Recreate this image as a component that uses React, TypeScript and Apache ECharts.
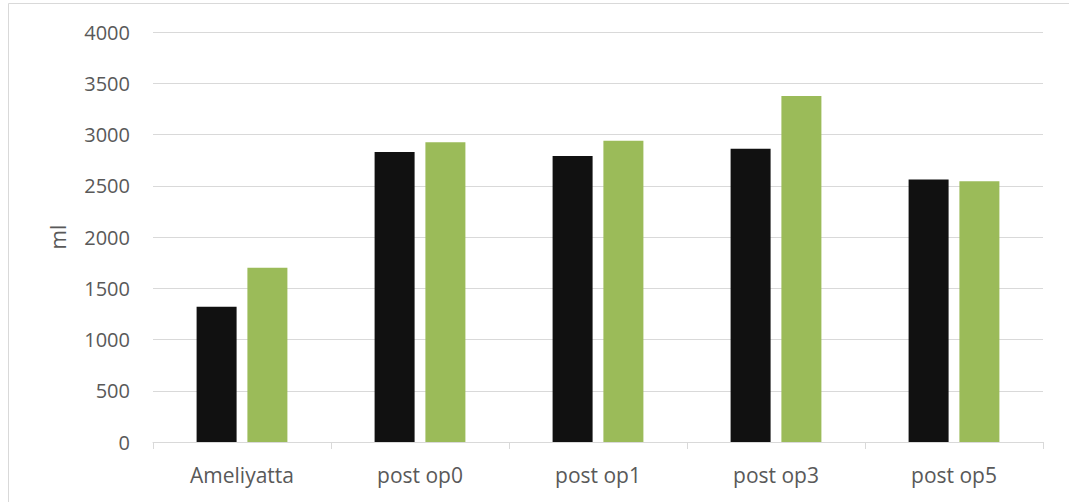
import React, { useEffect, useRef } from "react";
import * as echarts from "echarts";

const categories = ["Ameliyatta", "post op0", "post op1", "post op3", "post op5"];
const seriesA = [1320, 2830, 2790, 2860, 2560];
const seriesB = [1700, 2925, 2940, 3375, 2545];
const yTicks = { min: 0, max: 4000, interval: 500 };
const yName = "ml";

export default function App() {
  const ref = useRef<HTMLDivElement>(null);

  useEffect(() => {
    if (!ref.current) return;
    const chart = echarts.init(ref.current, null, { renderer: "svg" });
    const font = "'Open Sans', Lato, sans-serif";
    chart.setOption({
      animation: false,
      backgroundColor: "#ffffff",
      graphic: [
        {
          type: "rect",
          shape: { x: 8.5, y: 3.5, width: 1200, height: 700 },
          style: { fill: "none", stroke: "#d9d9d9", lineWidth: 1 },
          silent: true,
        },
      ],
      grid: { left: 153, right: 26, top: 32, bottom: 60, containLabel: false },
      xAxis: {
        type: "category",
        data: categories,
        axisLine: { lineStyle: { color: "#d9d9d9", width: 1 } },
        axisTick: { show: true, length: 7, lineStyle: { color: "#d9d9d9" } },
        axisLabel: { color: "#595959", fontSize: 21, fontFamily: font, margin: 22 },
      },
      yAxis: {
        type: "value",
        min: yTicks.min,
        max: yTicks.max,
        interval: yTicks.interval,
        name: yName,
        nameLocation: "middle",
        nameGap: 85,
        nameTextStyle: { color: "#595959", fontSize: 21, fontFamily: font },
        axisLine: { show: false },
        axisTick: { show: false },
        axisLabel: {
          color: "#595959",
          fontSize: 20,
          fontFamily: font,
          margin: 23,
          formatter: (v: number) => String(v),
        },
        splitLine: { lineStyle: { color: "#d9d9d9", width: 1 } },
      },
      series: [
        {
          type: "bar",
          data: seriesA,
          barWidth: 40,
          barGap: "27%",
          itemStyle: { color: "#111111" },
        },
        {
          type: "bar",
          data: seriesB,
          barWidth: 40,
          barGap: "27%",
          itemStyle: { color: "#9bbb59" },
        },
      ],
    });
    return () => chart.dispose();
  }, []);

  return (
    <div
      ref={ref}
      style={{ position: "fixed", left: 0, top: 0, width: 1069, height: 502 }}
    />
  );
}
